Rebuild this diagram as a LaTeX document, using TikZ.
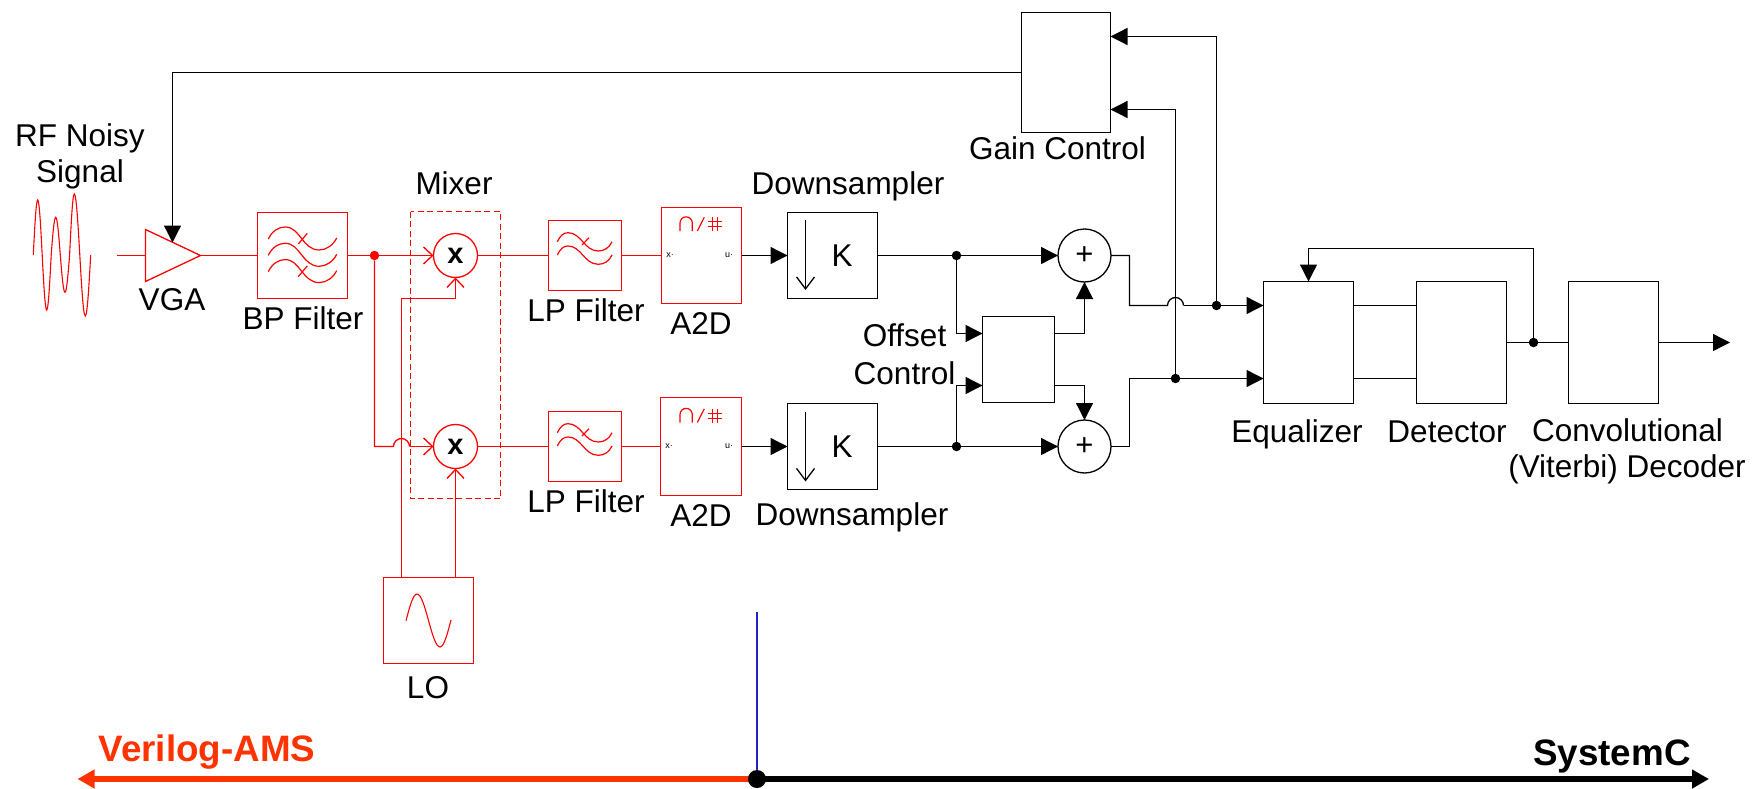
\documentclass[tikz,border=0pt]{standalone}
\usepackage{fontspec}
\setmainfont{Liberation Sans}
\usetikzlibrary{arrows.meta,calc}
\definecolor{vred}{HTML}{FF3300}
\definecolor{vblue}{HTML}{2222CC}
\tikzset{
  rl/.style={draw=red,line width=1.3pt},
  kl/.style={draw=black,line width=1.3pt},
  rbox/.style={rectangle,draw=red,line width=1.3pt,inner sep=0pt,outer sep=0pt},
  kbox/.style={rectangle,draw=black,line width=1.3pt,inner sep=0pt,outer sep=0pt},
  rcirc/.style={circle,draw=red,line width=1.3pt,inner sep=0pt,outer sep=0pt,minimum size=44pt,font=\fontsize{29}{34}\selectfont\bfseries},
  kcirc/.style={circle,draw=black,line width=1.3pt,inner sep=0pt,outer sep=0pt,minimum size=53pt,font=\fontsize{31}{36}\selectfont},
  lab/.style={inner sep=0pt,outer sep=0pt,font=\fontsize{31.5}{36}\selectfont},
  biglab/.style={inner sep=0pt,outer sep=0pt,font=\fontsize{36.8}{40}\selectfont\bfseries},
  port/.style={inner sep=0pt,outer sep=0pt,font=\fontsize{9}{10}\selectfont},
  rdot/.style={circle,fill=red,inner sep=0pt,outer sep=0pt,minimum size=9.5pt},
  kdot/.style={circle,fill=black,inner sep=0pt,outer sep=0pt,minimum size=9.5pt},
  ktip/.style={-{Triangle[length=17pt,width=17pt]}},
  rtip/.style={-{Straight Barb[length=9pt,width=17pt]}},
  dtip/.style={-{Straight Barb[length=12pt,width=18pt]}},
  thicktip/.style={line width=6pt,-{Triangle[length=17pt,width=18pt]}}
}
\newcommand{\wavebp}[2]{\draw[rl,line width=1.2pt,shift={(#1,#2)}] (0,0) .. controls (4,-8) and (10,-12) .. (17,-12) .. controls (32,-12) and (34,11) .. (51,11) .. controls (58,11) and (65,6) .. (68.4,-1);}
\newcommand{\wavelp}[2]{\draw[rl,line width=1.2pt,shift={(#1,#2)}] (0,0) .. controls (3,-6) and (6,-9) .. (10.7,-9) .. controls (24,-9) and (27,9.3) .. (41,9.3) .. controls (47,9.3) and (52,6) .. (54.7,0);}
\newcommand{\lpglyph}[2]{\begin{scope}[shift={(#1,#2)}]
  \wavelp{0}{0}\wavelp{0}{13.3}
  \draw[rl,line width=1.2pt] (24.7,3.3) -- (31.7,-4);
\end{scope}}
\newcommand{\adcglyph}[2]{\begin{scope}[shift={(#1,#2)}]
  \draw[rl,line width=1.2pt] (0,14) -- (0,6) arc (180:360:6.15) -- (12.3,14);
  \draw[rl,line width=1.2pt] (17.3,14) -- (24.3,0.3);
  \draw[rl,line width=1.2pt] (32.3,0) -- (32.3,14) (37.3,0) -- (37.3,14) (27.7,4.7) -- (41.7,4.7) (27.7,9.7) -- (41.7,9.7);
\end{scope}}
\begin{document}
\begin{tikzpicture}[x=1pt,y=-1pt]
\useasboundingbox (0,0) rectangle (1763,789);
% ---------- red blocks
\node[rbox,minimum width=90pt,minimum height=86pt] (bp) at (302.5,255.5) {};
\node[rcirc] (mixa) at (455.5,255.5) {x};
\node[rcirc] (mixb) at (455.5,446.5) {x};
\draw[red,line width=1.3pt,dash pattern=on 6pt off 3.5pt] (410.5,211.5) rectangle (500.5,498.5);
\node[rbox,minimum width=73pt,minimum height=70pt] (lpa) at (585,255.5) {};
\node[rbox,minimum width=73pt,minimum height=70pt] (lpb) at (585,446.5) {};
\node[rbox,minimum width=80pt,minimum height=96pt] (ada) at (701.5,255.5) {};
\node[rbox,minimum width=81pt,minimum height=98pt] (adb) at (701,446.5) {};
\node[rbox,minimum width=90pt,minimum height=86pt] (lo) at (428.5,620.5) {};
% VGA triangle
\coordinate (vgain) at (145.5,255.5);
\coordinate (vgaout) at (200.5,255.5);
\coordinate (vgatop) at (172.5,242.5);
\draw[rl] (145.5,229.5) -- (200.5,255.5) -- (145.5,281.5) -- cycle;
% glyphs
\draw[red,line width=1.1pt] (33.3,255) sin (37.7,200) cos (42.2,255) sin (46.7,310) cos (51.2,255) sin (55.7,217.3) cos (60.3,255) sin (65,292.3) cos (69.6,255) sin (74.3,194) cos (79.8,255) sin (85.3,316) cos (90.7,255);
\draw[red,line width=1.1pt] (406,620.7) sin (417,594) cos (428.5,620.5) sin (440,647) cos (451,620);
\wavebp{268.3}{239}\wavebp{268.3}{255.3}\wavebp{268.3}{271.6}
\draw[rl,line width=1.2pt] (298.3,244) -- (307.3,233.3) (298.3,276.6) -- (307.3,265.9);
\lpglyph{557.3}{241.7}
\lpglyph{557.3}{432.7}
\adcglyph{680}{217}
\adcglyph{680}{408.5}
\node[port] (xa) at (670,255.5) {x·};
\node[port] (ua) at (729,255.5) {u·};
\node[port] (xb) at (669,446.5) {x·};
\node[port] (ub) at (729,446.5) {u·};
% ---------- black blocks
\node[kbox,minimum width=90pt,minimum height=86pt] (dna) at (832.5,255.5) {};
\node[kbox,minimum width=90pt,minimum height=86pt] (dnb) at (832.5,446.5) {};
\node[lab] (ka) at (842,255.5) {K};
\node[lab] (kb) at (842,446.5) {K};
\coordinate (dnat) at (805.5,220.3); \coordinate (dnab) at (805.5,290);
\coordinate (dnbt) at (805.5,411.5); \coordinate (dnbb) at (805.5,481.5);
\draw[kl,dtip] (dnat) -- (dnab);
\draw[kl,dtip] (dnbt) -- (dnbb);
\node[kbox,minimum width=89pt,minimum height=120pt] (gain) at (1066,72.5) {};
\node[kcirc] (pla) at (1084.5,255.5) {+};
\node[kcirc] (plb) at (1084.5,446.5) {+};
\node[kbox,minimum width=72pt,minimum height=86pt] (off) at (1018.5,359.5) {};
\node[kbox,minimum width=90pt,minimum height=122pt] (eq) at (1308.5,342.5) {};
\node[kbox,minimum width=90pt,minimum height=122pt] (det) at (1461.5,342.5) {};
\node[kbox,minimum width=90pt,minimum height=122pt] (conv) at (1613.5,342.5) {};
% ---------- junctions
\node[rdot] (jr) at (374.5,255.5) {};
\node[kdot] (ja) at (956.5,255.5) {};
\node[kdot] (jb) at (956.5,446.5) {};
\node[kdot] (jt) at (1216.5,305.5) {};
\node[kdot] (jl) at (1175.5,378.5) {};
\node[kdot] (jd) at (1533.5,342.5) {};
% ---------- free ends
\coordinate (sigin) at (117,255.5);
\coordinate (out) at (1730,342.5);
\coordinate (gt) at (1110.5,36.5);
\coordinate (gb) at (1110.5,109.5);
\coordinate (ofa) at (982.5,333.5);
\coordinate (ofb) at (982.5,385.5);
\coordinate (ofc) at (1054.5,333.5);
\coordinate (ofd) at (1054.5,385.5);
\coordinate (eqa) at (1263.5,305.5);
\coordinate (eqb) at (1263.5,378.5);
\coordinate (deta) at (1416.5,305.5);
\coordinate (detb) at (1416.5,378.5);
\coordinate (eqr) at (1353.5,305.5);
\coordinate (eqs) at (1353.5,378.5);
\coordinate (eqtop) at (1308.5,281.5);
\coordinate (loa) at (401.5,577.5);
\coordinate (loc) at (455.5,577.5);
\coordinate (jumpl) at (393.5,446.5);
\coordinate (jumpr) at (409.5,446.5);
\coordinate (jumpL) at (1167.5,305.5);
\coordinate (jumpR) at (1183.5,305.5);
% ---------- red connectors
\draw[rl] (sigin) -- (vgain);
\draw[rl] (vgaout) -- (bp.west);
\draw[rl] (bp.east) -- (jr);
\draw[rl,rtip] (jr) -- (mixa.west);
\draw[rl] (jr) |- (jumpl) arc (180:360:8);
\draw[rl,rtip] (jumpr) -- (mixb.west);
\draw[rl,rtip] (loa) |- (401.5,298.5) -| (mixa.south);
\draw[rl,rtip] (loc) -- (mixb.south);
\draw[rl] (mixa.east) -- (lpa.west);
\draw[rl] (mixb.east) -- (lpb.west);
\draw[rl] (lpa.east) -- (ada.west);
\draw[rl] (lpb.east) -- (adb.west);
% ---------- black connectors
\draw[kl,ktip] (gain.west) -| (vgatop);
\draw[kl,ktip] (ada.east) -- (dna.west);
\draw[kl,ktip] (adb.east) -- (dnb.west);
\draw[kl] (dna.east) -- (ja);
\draw[kl] (dnb.east) -- (jb);
\draw[kl,ktip] (ja) -- (pla.west);
\draw[kl,ktip] (jb) -- (plb.west);
\draw[kl,ktip] (ja) |- (ofa);
\draw[kl,ktip] (jb) |- (ofb);
\draw[kl,ktip] (ofc) -| (pla.south);
\draw[kl,ktip] (ofd) -| (plb.north);
\draw[kl] (pla.east) -- (1129.5,255.5) |- (jumpL) arc (180:360:8);
\draw[kl] (jumpR) -- (jt);
\draw[kl,ktip] (jt) -- (eqa);
\draw[kl] (plb.east) -- (1129.5,446.5) |- (jl);
\draw[kl,ktip] (jl) -- (eqb);
\draw[kl,ktip] (jt) |- (gt);
\draw[kl,ktip] (jl) |- (gb);
\draw[kl] (eqr) -- (deta);
\draw[kl] (eqs) -- (detb);
\draw[kl] (det.east) -- (jd);
\draw[kl] (jd) -- (conv.west);
\draw[kl,ktip] (jd) |- (1308.5,248.5) -- (eqtop);
\draw[kl,ktip] (conv.east) -- (out);
% ---------- labels
\node[lab] (trf) at (80,138) {RF Noisy};
\node[lab] (tsig) at (80,174) {Signal};
\node[lab] (tvga) at (172,300) {VGA};
\node[lab] (tbp) at (303,318) {BP Filter};
\node[lab] (tmix) at (454,183) {Mixer};
\node[lab] (tlpa) at (586,310) {LP Filter};
\node[lab] (tlpb) at (586,501) {LP Filter};
\node[lab] (tada) at (701,323) {A2D};
\node[lab] (tadb) at (701,515) {A2D};
\node[lab] (tdna) at (848,186) {Downsampler};
\node[lab] (tdnb) at (852,517) {Downsampler};
\node[lab] (toff) at (904.5,335) {Offset};
\node[lab] (tctl) at (904.5,373) {Control};
\node[lab] (tgain) at (1057.5,148) {Gain Control};
\node[lab] (teq) at (1297,434) {Equalizer};
\node[lab] (tdet) at (1447,432) {Detector};
\node[lab] (tcv) at (1627.5,430) {Convolutional};
\node[lab] (tvit) at (1627,469) {(Viterbi) Decoder};
\node[lab] (tlo) at (428,688) {LO};
\node[biglab,text=vred] (tver) at (207,752) {Verilog-AMS};
\node[biglab,text=black] (tsc) at (1612,756) {SystemC};
% ---------- bottom axis
\coordinate (axc) at (757,779);
\coordinate (bluetop) at (757,612);
\coordinate (axl) at (77.5,779);
\coordinate (axr) at (1709,779);
\draw[vblue,line width=1.5pt] (bluetop) -- (axc);
\draw[vred,thicktip] (axc) -- (axl);
\draw[black,thicktip] (axc) -- (axr);
\node[circle,fill=black,inner sep=0pt,minimum size=18pt] (axisdot) at (axc) {};
\end{tikzpicture}
\end{document}
